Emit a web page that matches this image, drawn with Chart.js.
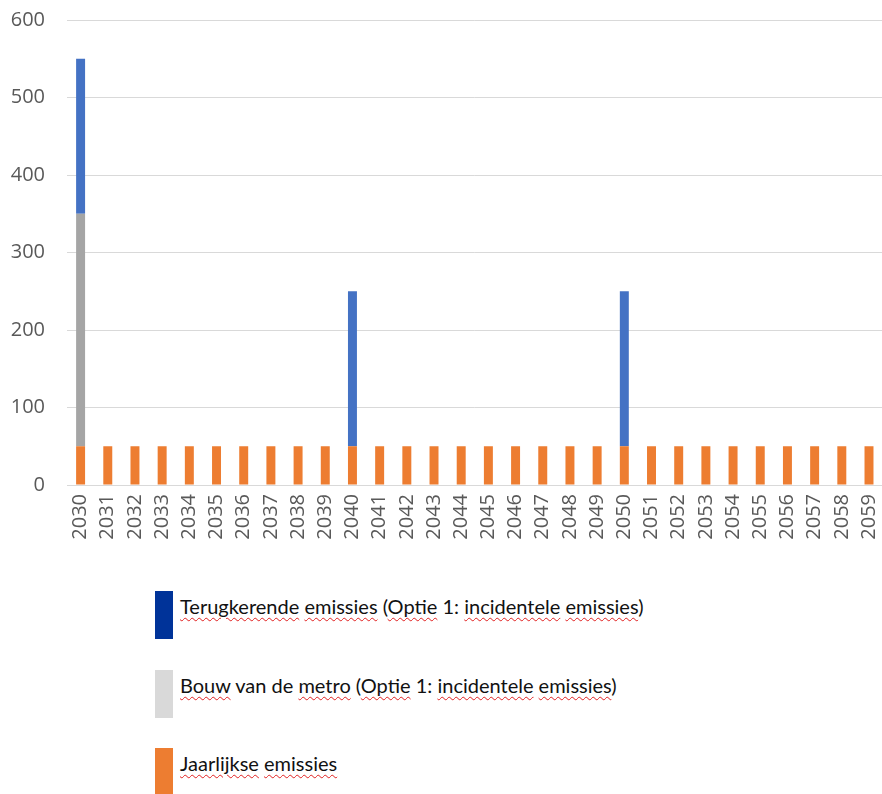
<!DOCTYPE html>
<html>
<head>
<meta charset="utf-8">
<script src="https://cdn.jsdelivr.net/npm/chart.js@4"></script>
<style>
  html, body { margin: 0; padding: 0; background: #fff; }
  body { width: 882px; height: 794px; position: relative; overflow: hidden; }
  #wrap { position: absolute; left: 0; top: -14px; width: 902px; height: 569px; }
  .leg { position: absolute; left: 155px; display: flex; align-items: flex-start; }
  .sw { width: 18px; height: 48px; margin-right: 7px; }
  .lt { font-family: Lato, "Open Sans", sans-serif; font-size: 20px; color: #111; line-height: 1; padding-top: 5px; }
  .sp { text-decoration: underline wavy #e02020; text-decoration-thickness: 1px; text-underline-offset: 3px; }
</style>
</head>
<body>
<div id="wrap"><canvas id="c"></canvas></div>

<div class="leg" style="top:591px"><div class="sw" style="background:#003399"></div><div class="lt"><span class="sp">Terugkerende</span> <span class="sp">emissies</span> (<span class="sp">Optie</span> 1: <span class="sp">incidentele</span> <span class="sp">emissies</span>)</div></div>
<div class="leg" style="top:670px"><div class="sw" style="background:#d9d9d9"></div><div class="lt"><span class="sp">Bouw</span> van de <span class="sp">metro</span> (<span class="sp">Optie</span> 1: <span class="sp">incidentele</span> <span class="sp">emissies</span>)</div></div>
<div class="leg" style="top:748px"><div class="sw" style="background:#ed7d31"></div><div class="lt"><span class="sp">Jaarlijkse</span> <span class="sp">emissies</span></div></div>

<script>
// Years on the category axis
const years = ['2030','2031','2032','2033','2034','2035','2036','2037','2038','2039',
               '2040','2041','2042','2043','2044','2045','2046','2047','2048','2049',
               '2050','2051','2052','2053','2054','2055','2056','2057','2058','2059'];

// Yearly emissions (bottom of each stack)
const jaarlijkseEmissies = [50,50,50,50,50,50,50,50,50,50,
                            50,50,50,50,50,50,50,50,50,50,
                            50,50,50,50,50,50,50,50,50,50];

// One-off construction emissions of the metro
const bouwMetro = [300,0,0,0,0,0,0,0,0,0,
                   0,0,0,0,0,0,0,0,0,0,
                   0,0,0,0,0,0,0,0,0,0];

// Recurring emissions every ten years
const terugkerendeEmissies = [200,0,0,0,0,0,0,0,0,0,
                              200,0,0,0,0,0,0,0,0,0,
                              200,0,0,0,0,0,0,0,0,0];

// Value-axis ticks
const yTicks = [0,100,200,300,400,500,600];

const barOpts = { barPercentage: 0.33, categoryPercentage: 1.0, borderWidth: 0 };
const tickFont = { family: '"Open Sans", "Liberation Sans", sans-serif', size: 20 };

new Chart(document.getElementById('c'), {
  type: 'bar',
  data: {
    labels: years,
    datasets: [
      { label: 'Jaarlijkse emissies', data: jaarlijkseEmissies, backgroundColor: '#ed7d31', ...barOpts },
      { label: 'Bouw van de metro (Optie 1: incidentele emissies)', data: bouwMetro, backgroundColor: '#a5a5a5', ...barOpts },
      { label: 'Terugkerende emissies (Optie 1: incidentele emissies)', data: terugkerendeEmissies, backgroundColor: '#4472c4', ...barOpts }
    ]
  },
  options: {
    responsive: true,
    maintainAspectRatio: false,
    animation: false,
    layout: { padding: { top: 10, right: 0, bottom: 0, left: 0 } },
    plugins: { legend: { display: false }, tooltip: { enabled: false } },
    scales: {
      x: {
        stacked: true,
        grid: { display: false, drawTicks: false },
        border: { display: true, color: '#d9d9d9', width: 1 },
        ticks: {
          autoSkip: false, minRotation: 90, maxRotation: 90, padding: 9,
          color: '#595959', font: tickFont
        },
        afterFit: s => { s.height = 70; }
      },
      y: {
        stacked: true,
        min: 0, max: 600,
        afterBuildTicks: s => { s.ticks = yTicks.map(v => ({ value: v })); },
        grid: { color: '#d9d9d9', lineWidth: 1, drawTicks: false },
        border: { display: false },
        ticks: { padding: 22, color: '#595959', font: tickFont },
        afterFit: s => { s.width = 67; }
      }
    }
  }
});
</script>
</body>
</html>
